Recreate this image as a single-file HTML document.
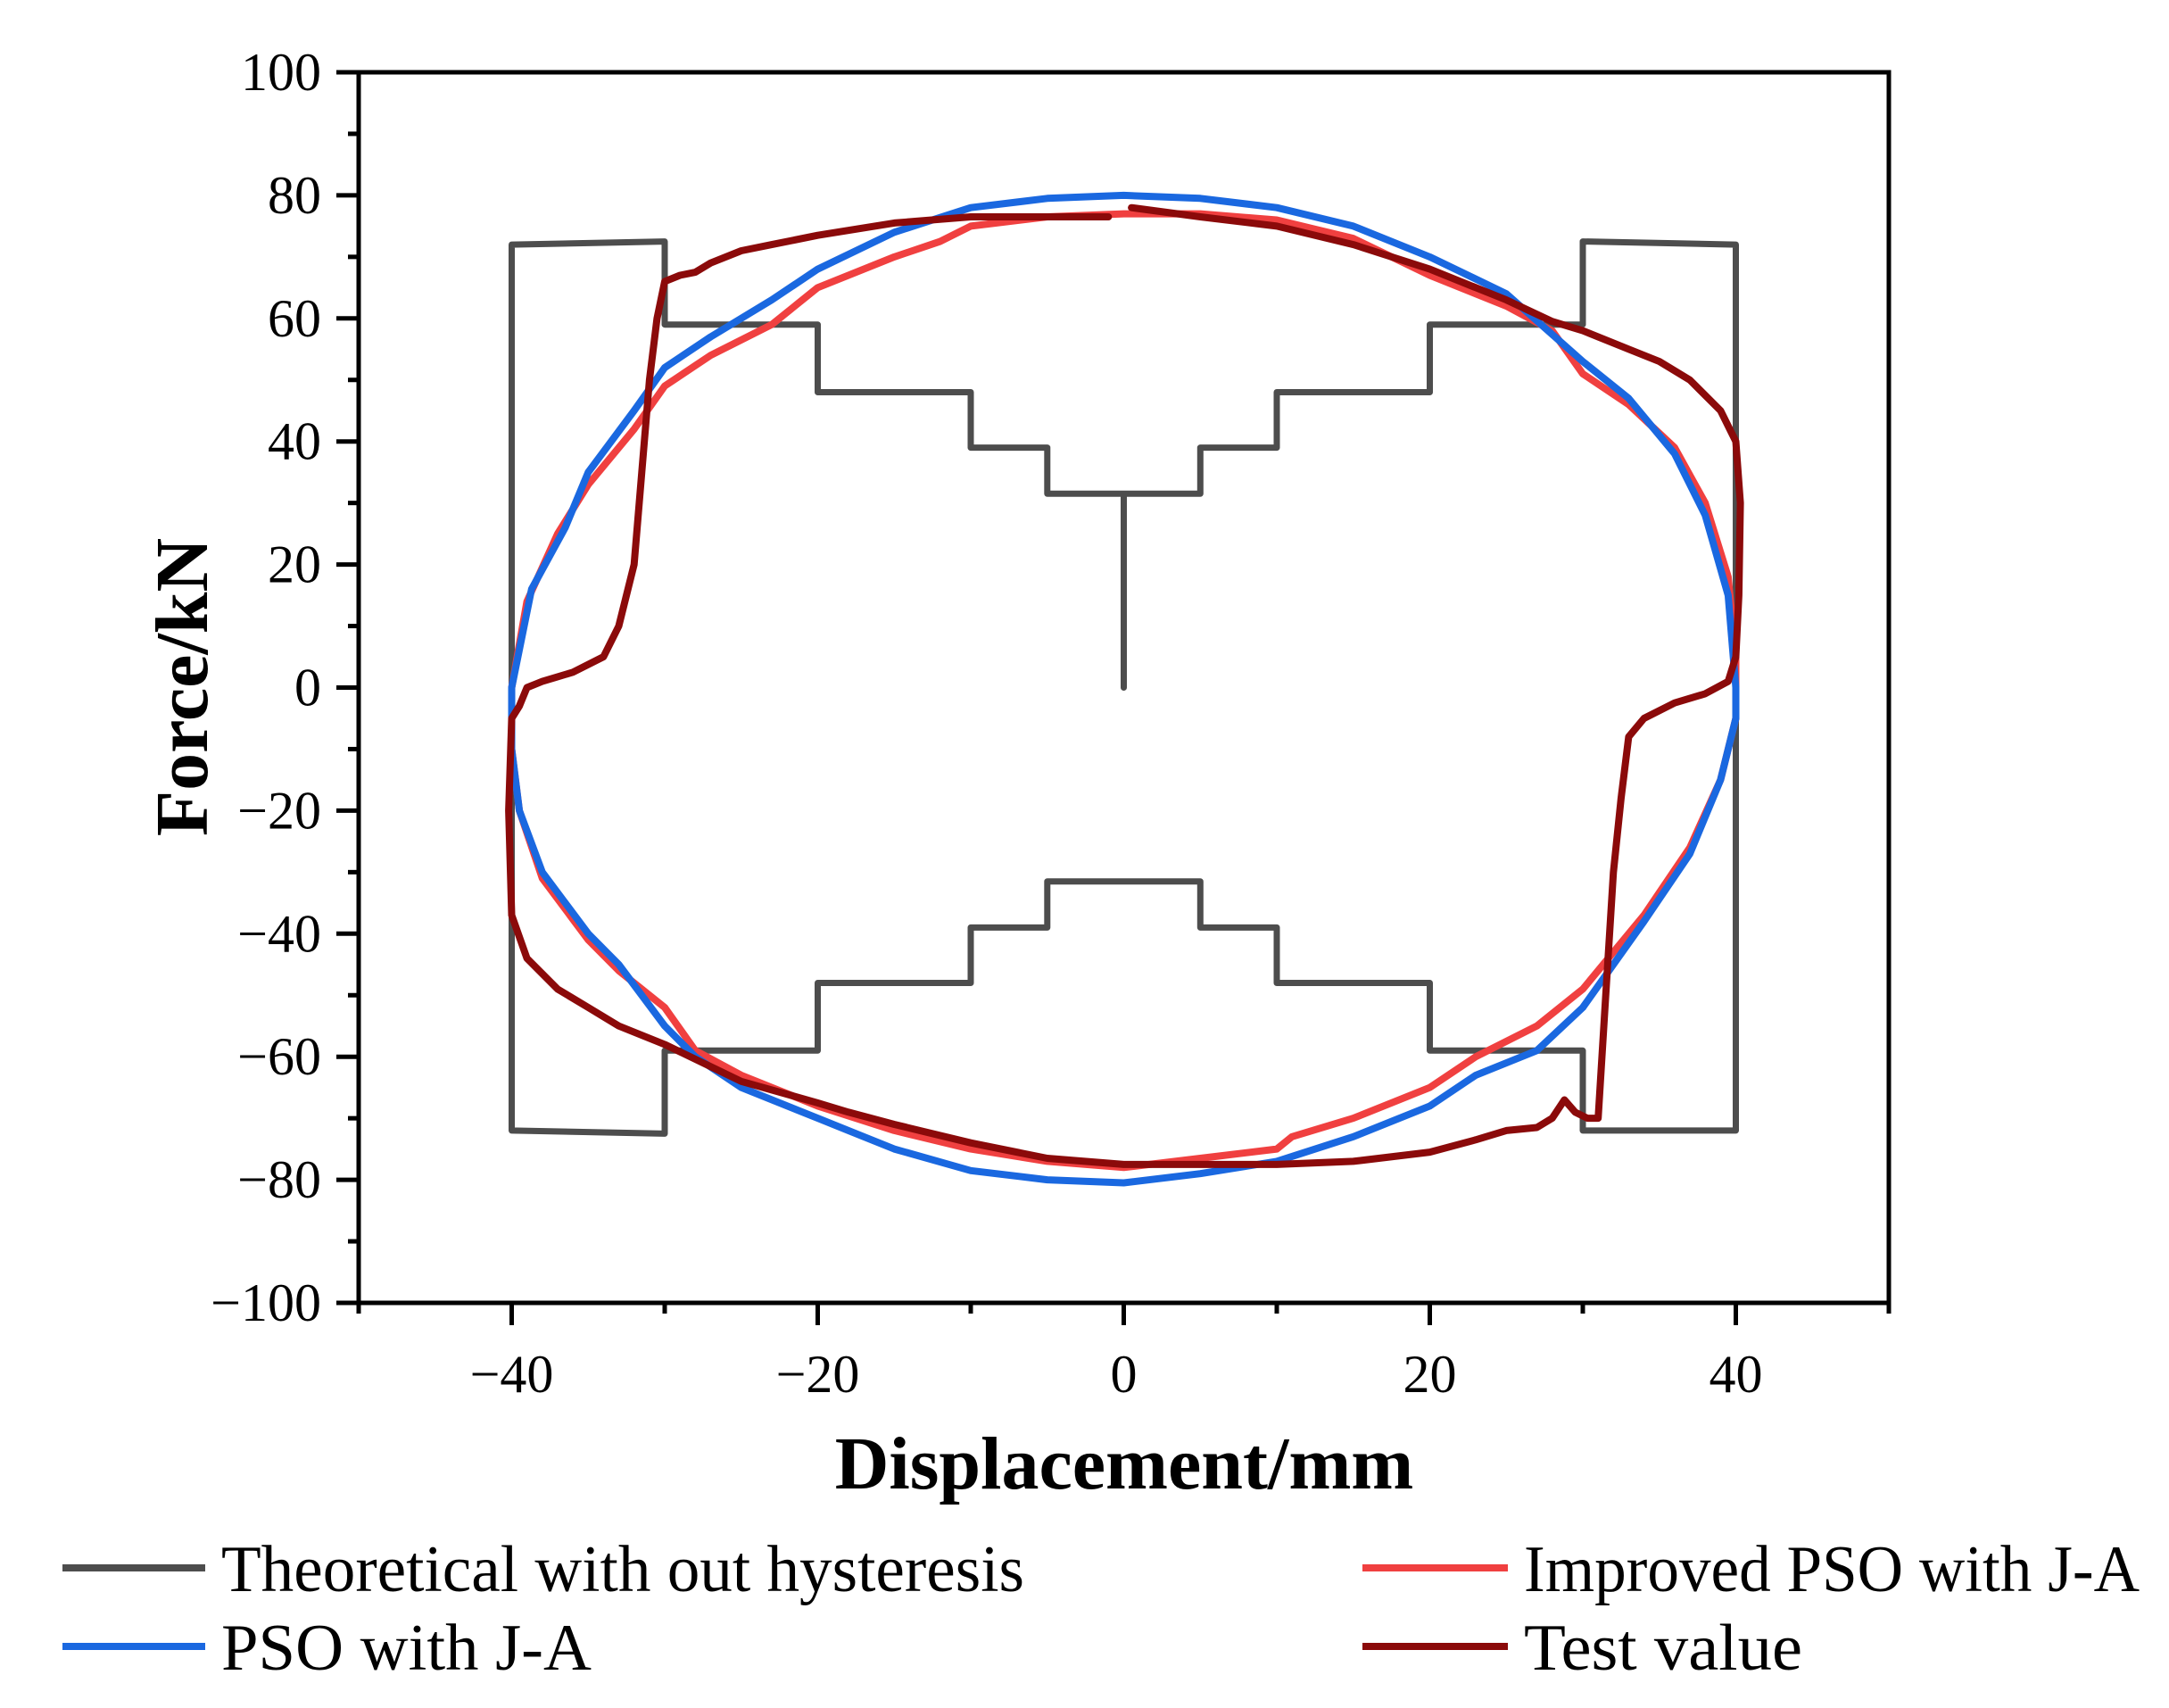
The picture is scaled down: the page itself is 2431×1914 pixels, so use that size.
<!DOCTYPE html>
<html><head><meta charset="utf-8"><style>html,body{margin:0;padding:0;background:#fff}svg{display:block}text{font-family:"Liberation Serif",serif}</style></head>
<body>
<svg id="chart" width="2431" height="1914" viewBox="0 0 2431 1914" xmlns="http://www.w3.org/2000/svg">
<g id="plot"></g>
<g id="axes"></g>
<text x="0" y="0" transform="translate(232,770) rotate(-90)" text-anchor="middle" font-size="84" font-weight="bold">Force/kN</text>
<text x="1260" y="1668" text-anchor="middle" font-size="84" font-weight="bold">Displacement/mm</text>
<g>
<line x1="70" y1="1757" x2="230" y2="1757" stroke="#4d4d4d" stroke-width="8"/>
<text x="248" y="1783" font-size="74" textLength="900" lengthAdjust="spacingAndGlyphs">Theoretical  with out hysteresis</text>
<line x1="70" y1="1845" x2="230" y2="1845" stroke="#1a68e0" stroke-width="8"/>
<text x="248" y="1871" font-size="74" textLength="415" lengthAdjust="spacingAndGlyphs">PSO  with J-A</text>
<line x1="1527" y1="1757" x2="1690" y2="1757" stroke="#f04040" stroke-width="8"/>
<text x="1708" y="1783" font-size="74" textLength="690" lengthAdjust="spacingAndGlyphs">Improved PSO with J-A</text>
<line x1="1527" y1="1845" x2="1690" y2="1845" stroke="#8b0a0a" stroke-width="8"/>
<text x="1708" y="1871" font-size="74" textLength="312" lengthAdjust="spacingAndGlyphs">Test  value</text>
</g>
</svg>
<script>
const xTicks=[-40,-20,0,20,40];
const yTicks=[100,80,60,40,20,0,-20,-40,-60,-80,-100];
const theoX=[0,0,5,5,10,10,20,20,30,30,40,40,30,30,20,20,10,10,5,5,-5,-5,-10,-10,-20,-20,-30,-30,-40,-40,-30,-30,-20,-20,-10,-10,-5,-5,0];
const theoY=[0,31.5,31.5,39,39,48,48,59,59,72.5,72,-72,-72,-59,-59,-48,-48,-39,-39,-31.5,-31.5,-39,-39,-48,-48,-59,-59,-72.5,-72,72,72.5,59,59,48,48,39,39,31.5,31.5];
const psoX=[-40,-38.7,-36.5,-35,-32,-30,-27,-23,-20,-15,-10,-5,0,5,10,15,20,25,30,33,36,38,39.5,40,40,39,37,34,30,27,23,20,15,10,5,0,-5,-10,-15,-20,-25,-28,-30,-33,-35,-38,-39.5,-40,-40];
const psoY=[0,16,26,35,45,52,57,63,68,74,78,79.5,80,79.5,78,75,70,64,53,47,38,28,15,0,-5,-15,-27,-38,-52,-59,-63,-68,-73,-77,-79,-80.5,-80,-78.5,-75,-70,-65,-60,-55,-45,-40,-30,-20,-10,0];
const impX=[-40,-39,-37,-35,-32,-30,-27,-23,-20,-15,-12,-10,-5,0,5,10,15,20,25,28,30,33,36,38,39.5,40,40,39,37,34,30,27,23,20,15,11,10,5,0,-5,-10,-15,-20,-25,-28,-30,-33,-35,-38,-39.5,-40,-40];
const impY=[0,14,25,33,42,49,54,59,65,70,72.5,75,76.5,77,77,76,73,67,62,58,51,46,39,30,18,5,-5,-15,-26,-37,-49,-55,-60,-65,-70,-73,-75,-76.5,-78,-77,-75,-72,-68,-63,-59,-52,-46,-41,-31,-20,-10,0];
const testX=[0.5,5,10,15,20,25,28,30,33,35,37,39,40,40.3,40.2,40,39.5,38,36,34,33,32.5,32,31.5,31,30.3,29.5,28.8,28,27,25,23,20,15,10,5,0,-5,-10,-15,-18,-20,-25,-30,-33,-35,-37,-39,-40,-40.2,-40,-39.5,-39,-38,-36,-34,-33,-32,-31.5,-31,-30.5,-30,-29,-28,-27,-25,-23,-20,-15,-10,-5,-1];
const testY=[78,76.5,75,72,68,63,59.5,58,55,53,50,45,40,30,15,5,1,-1,-2.5,-5,-8,-18,-30,-50,-70,-70,-69,-67,-70,-71.5,-72,-73.5,-75.5,-77,-77.5,-77.5,-77.5,-76.5,-74,-71,-69,-67.5,-64,-58,-55,-52,-49,-44,-37,-20,-5,-3,0,1,2.5,5,10,20,35,50,60,66,67,67.5,69,71,72,73.5,75.5,76.5,76.5,76.5];
const L=402,R=2117,T=81,B=1460;
const sx=v=>L+(v+50)/100*(R-L);
const sy=v=>T+(100-v)/200*(B-T);
const NS='http://www.w3.org/2000/svg';
const plot=document.getElementById('plot'),axes=document.getElementById('axes');
function mk(tag,attrs,parent){const e=document.createElementNS(NS,tag);for(const k in attrs)e.setAttribute(k,attrs[k]);parent.appendChild(e);return e;}
function series(xs,ys,color,w,name){
  const pts=xs.map((x,i)=>sx(x).toFixed(1)+','+sy(ys[i]).toFixed(1)).join(' ');
  const p=mk('polyline',{points:pts,fill:'none',stroke:color,'stroke-width':w,'stroke-linejoin':'round','stroke-linecap':'round'},plot);
  
  
}
series(theoX,theoY,'#4d4d4d',7,'series-theoretical');
series(impX,impY,'#f04040',8,'series-improved-pso');
series(psoX,psoY,'#1a68e0',8,'series-pso');
series(testX,testY,'#8b0a0a',8,'series-test-value');
const fr=mk('rect',{x:L,y:T,width:R-L,height:B-T,fill:'none',stroke:'#000','stroke-width':5},axes);


for(let v=-100;v<=100;v+=10){const maj=v%20===0;const t=mk('line',{x1:L-(maj?25:12),x2:L,y1:sy(v),y2:sy(v),stroke:'#000','stroke-width':5},axes);

}
for(let v=-50;v<=50;v+=10){const maj=v%20===0;const t=mk('line',{x1:sx(v),x2:sx(v),y1:B,y2:B+(maj?25:12),stroke:'#000','stroke-width':5},axes);

}
yTicks.forEach(v=>{const t=mk('text',{x:360,y:sy(v)+20,'text-anchor':'end','font-size':60},axes);t.textContent=(v<0?'\u2212':'')+Math.abs(v);

});
xTicks.forEach(v=>{const t=mk('text',{x:sx(v),y:1560,'text-anchor':'middle','font-size':60},axes);t.textContent=(v<0?'\u2212':'')+Math.abs(v);

});
</script>
</body></html>
